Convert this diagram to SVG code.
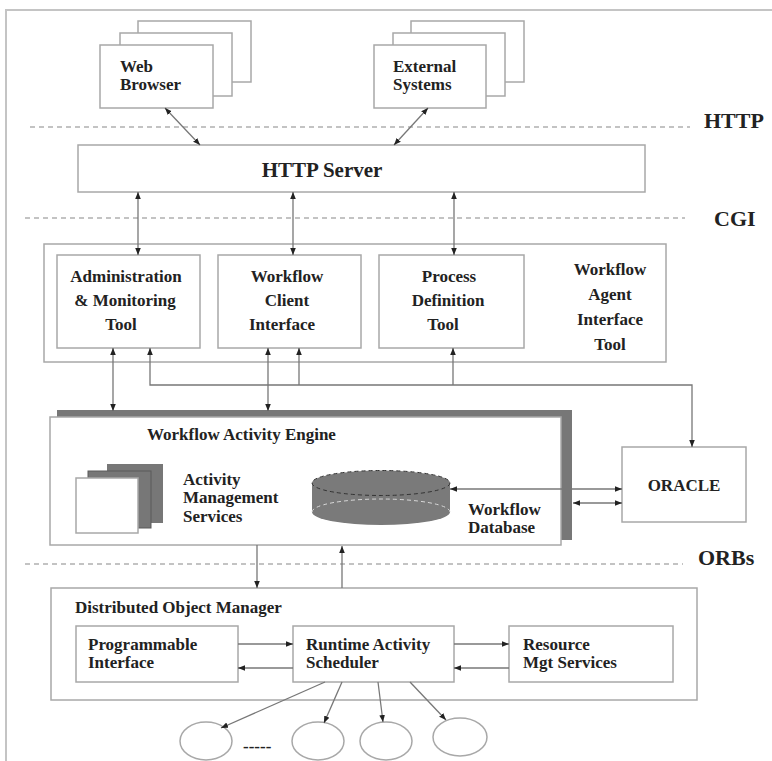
<svg xmlns="http://www.w3.org/2000/svg" width="772" height="761" viewBox="0 0 772 761">
<defs>
<marker id="ah" viewBox="0 0 10 10" refX="10" refY="5" markerWidth="7" markerHeight="7" markerUnits="userSpaceOnUse" orient="auto-start-reverse">
<path d="M0,1 L10,5 L0,9 z" fill="#222"/>
</marker>
<style>
.box{fill:#fff;stroke:#a8a8a8;stroke-width:1.5}
.lbl{font-family:"Liberation Serif","Times New Roman",serif;font-weight:bold;font-size:17px;fill:#222}
.mid{text-anchor:middle}
.big{font-size:21px}
.layer{font-size:22px}
.dash{stroke:#b0b0b0;stroke-width:1.5;stroke-dasharray:5 4;fill:none}
.cn{stroke:#777;stroke-width:1.3;fill:none}
.both{marker-start:url(#ah);marker-end:url(#ah)}
.end{marker-end:url(#ah)}
.start{marker-start:url(#ah)}
</style>
</defs>
<rect width="772" height="761" fill="#fff"/>
<path d="M6,761 V10 H772" fill="none" stroke="#c4c4c4" stroke-width="2"/>

<g id="layers">
<line class="dash" x1="30" y1="127" x2="690" y2="127"/>
<text class="lbl layer" x="704" y="128">HTTP</text>
<line class="dash" x1="25" y1="218" x2="685" y2="218"/>
<text class="lbl layer" x="714" y="226">CGI</text>
<line class="dash" x1="25" y1="564" x2="683" y2="564"/>
<text class="lbl layer" x="698" y="565">ORBs</text>
</g>

<g id="web-browser">
<rect class="box" x="138" y="21" width="113" height="61"/>
<rect class="box" x="120" y="33" width="112" height="63"/>
<rect class="box" x="100" y="45" width="113" height="63"/>
<text class="lbl" x="120" y="72">Web</text>
<text class="lbl" x="120" y="90">Browser</text>
</g>

<g id="external-systems">
<rect class="box" x="411" y="21" width="113" height="61"/>
<rect class="box" x="393" y="33" width="112" height="63"/>
<rect class="box" x="374" y="45" width="112" height="63"/>
<text class="lbl" x="393" y="72">External</text>
<text class="lbl" x="393" y="90">Systems</text>
</g>

<g id="http-server">
<rect class="box" x="78" y="145" width="567" height="47"/>
<text class="lbl big mid" x="322" y="177">HTTP Server</text>
</g>

<g id="workflow-agent-interface-tool">
<rect class="box" x="44" y="244" width="622" height="118"/>
<text class="lbl mid" x="610" y="275">Workflow</text>
<text class="lbl mid" x="610" y="300">Agent</text>
<text class="lbl mid" x="610" y="325">Interface</text>
<text class="lbl mid" x="610" y="350">Tool</text>
</g>

<g id="admin-tool">
<rect class="box" x="57" y="255" width="143" height="93"/>
<text class="lbl mid" x="126" y="282">Administration</text>
<text class="lbl mid" x="125" y="306">&amp; Monitoring</text>
<text class="lbl mid" x="121" y="330">Tool</text>
</g>

<g id="workflow-client-interface">
<rect class="box" x="218" y="255" width="143" height="93"/>
<text class="lbl mid" x="287" y="282">Workflow</text>
<text class="lbl mid" x="287" y="306">Client</text>
<text class="lbl mid" x="282" y="330">Interface</text>
</g>

<g id="process-definition-tool">
<rect class="box" x="379" y="255" width="145" height="93"/>
<text class="lbl mid" x="449" y="282">Process</text>
<text class="lbl mid" x="448" y="306">Definition</text>
<text class="lbl mid" x="443" y="330">Tool</text>
</g>

<g id="workflow-activity-engine">
<rect x="57" y="410" width="515" height="130" fill="#777"/>
<rect class="box" x="50" y="417" width="511" height="128"/>
<text class="lbl" x="147" y="440">Workflow Activity Engine</text>
</g>

<g id="activity-management-services">
<rect x="107" y="464" width="56" height="59" fill="#777"/>
<rect x="88" y="471" width="63" height="57" fill="#777" stroke="#5a5a5a" stroke-width="1"/>
<rect class="box" x="76" y="478" width="62" height="55"/>
<text class="lbl" x="183" y="485">Activity</text>
<text class="lbl" x="183" y="503">Management</text>
<text class="lbl" x="183" y="522">Services</text>
</g>

<g id="workflow-database">
<path d="M312,483 V512 A69,13 0 0 0 450,512 V483 Z" fill="#7a7a7a"/>
<ellipse cx="381" cy="483" rx="69" ry="12.5" fill="#7a7a7a" stroke="#333" stroke-width="1" stroke-dasharray="4 3"/>
<path d="M312,512 A69,13 0 0 1 450,512" fill="none" stroke="#d8d8d8" stroke-width="1" stroke-dasharray="4 3"/>
<text class="lbl" x="468" y="515">Workflow</text>
<text class="lbl" x="468" y="533">Database</text>
</g>

<g id="oracle">
<rect class="box" x="622" y="447" width="124" height="75"/>
<text class="lbl mid" x="684" y="491">ORACLE</text>
</g>

<g id="distributed-object-manager">
<rect class="box" x="51" y="588" width="646" height="112"/>
<text class="lbl" x="75" y="613">Distributed Object Manager</text>
</g>

<g id="programmable-interface">
<rect class="box" x="76" y="626" width="162" height="56"/>
<text class="lbl" x="88" y="650">Programmable</text>
<text class="lbl" x="88" y="668">Interface</text>
</g>

<g id="runtime-activity-scheduler">
<rect class="box" x="293" y="626" width="161" height="56"/>
<text class="lbl" x="306" y="650">Runtime Activity</text>
<text class="lbl" x="306" y="668">Scheduler</text>
</g>

<g id="resource-mgt-services">
<rect class="box" x="509" y="626" width="164" height="56"/>
<text class="lbl" x="523" y="650">Resource</text>
<text class="lbl" x="523" y="668">Mgt Services</text>
</g>

<g id="activities">
<ellipse class="box" cx="206" cy="741" rx="26" ry="19"/>
<text class="lbl" x="243" y="752">-----</text>
<ellipse class="box" cx="318" cy="741" rx="26" ry="19"/>
<ellipse class="box" cx="386" cy="741" rx="26" ry="19"/>
<ellipse class="box" cx="460" cy="737" rx="27" ry="19"/>
</g>

<g id="connectors">
<line class="cn both" x1="165" y1="108" x2="200" y2="145"/>
<line class="cn both" x1="428" y1="108" x2="394" y2="145"/>
<line class="cn both" x1="138" y1="192" x2="138" y2="255"/>
<line class="cn both" x1="293" y1="192" x2="293" y2="255"/>
<line class="cn both" x1="454" y1="192" x2="454" y2="255"/>
<line class="cn both" x1="113" y1="348" x2="113" y2="411"/>
<line class="cn both" x1="268" y1="348" x2="268" y2="411"/>
<path class="cn both" d="M150,348 V385 H692 V447"/>
<path class="cn end" d="M299,385 V348"/>
<path class="cn end" d="M453,385 V348"/>
<line class="cn both" x1="450" y1="489" x2="622" y2="489"/>
<line class="cn both" x1="573" y1="503" x2="622" y2="503"/>
<line class="cn end" x1="257" y1="545" x2="257" y2="588"/>
<line class="cn end" x1="342" y1="588" x2="342" y2="546"/>
<line class="cn end" x1="238" y1="644" x2="293" y2="644"/>
<line class="cn end" x1="293" y1="668" x2="238" y2="668"/>
<line class="cn end" x1="454" y1="644" x2="509" y2="644"/>
<line class="cn end" x1="509" y1="668" x2="454" y2="668"/>
<line class="cn end" x1="325" y1="682" x2="221" y2="728"/>
<line class="cn end" x1="342" y1="682" x2="324" y2="723"/>
<line class="cn end" x1="378" y1="682" x2="383" y2="722"/>
<line class="cn end" x1="410" y1="682" x2="446" y2="720"/>
</g>
</svg>
